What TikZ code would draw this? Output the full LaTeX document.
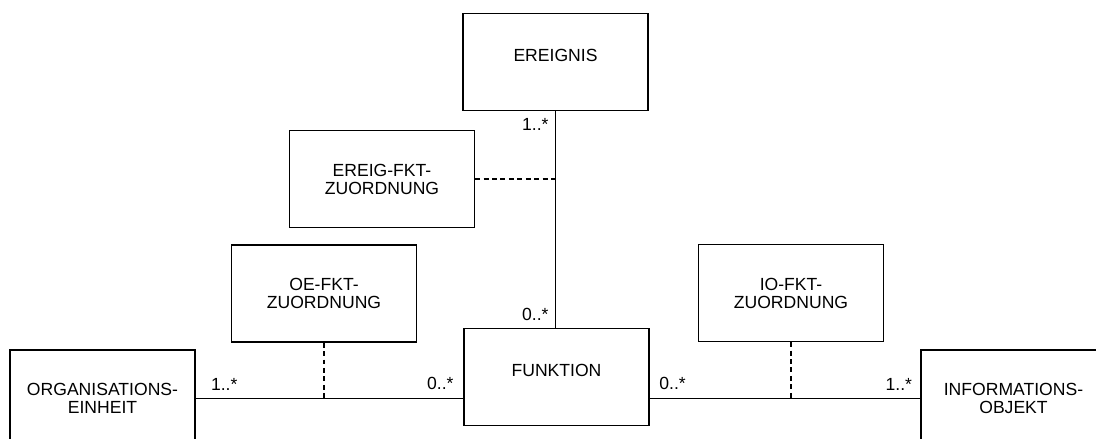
\documentclass[tikz,border=0pt]{standalone}
\usepackage{fontspec}
\setmainfont{Liberation Sans}

\begin{document}
\begin{tikzpicture}[
  x=0.025cm,y=-0.025cm,
  box/.style={rectangle,draw,line width=0.9pt,minimum width=4.625cm,minimum height=2.425cm,
    align=center,font=\fontsize{12.5}{12.8}\selectfont},
  solo/.style={box,text depth=10pt},
  assoc/.style={line width=0.9pt},
  link/.style={line width=0.9pt,dash pattern=on 3.5pt off 2.5pt},
  mult/.style={inner sep=4.5pt,font=\fontsize{12.5}{12.8}\selectfont}
]
\useasboundingbox (0,0) rectangle (1096,439);
\clip (0,0) rectangle (1096,439);

\node[solo] (ereignis) at (555.5,62) {EREIGNIS};
\node[box] (ereigfkt) at (382,179) {EREIG-FKT-\\ZUORDNUNG};
\node[box] (oefkt) at (324,293.5) {OE-FKT-\\ZUORDNUNG};
\node[solo] (funktion) at (556.5,377) {FUNKTION};
\node[box] (iofkt) at (791,293) {IO-FKT-\\ZUORDNUNG};
\node[box] (orgeinheit) at (102.5,398.5) {ORGANISATIONS-\\EINHEIT};
\node[box] (infoobjekt) at (1013.5,398.5) {INFORMATIONS-\\OBJEKT};

% associations with multiplicities
\draw[assoc] (ereignis.south) node[mult,below left]{1..*}
  -- (ereignis.south |- funktion.north) node[mult,above left]{0..*};
\draw[assoc] (orgeinheit.east) node[mult,above right,xshift=6pt,yshift=1pt]{1..*}
  -- (orgeinheit.east -| funktion.west) node[mult,above left,xshift=-2pt,yshift=1pt]{0..*};
\draw[assoc] (orgeinheit.east -| funktion.east) node[mult,above right,xshift=2pt,yshift=1pt]{0..*}
  -- (infoobjekt.west) node[mult,above left,xshift=-1pt,yshift=1pt]{1..*};

% association classes
\draw[link] (ereigfkt.east) -- (ereigfkt.east -| ereignis.south);
\draw[link] (oefkt.south) -- (oefkt.south |- orgeinheit.east);
\draw[link] (iofkt.south) -- (iofkt.south |- infoobjekt.west);
\end{tikzpicture}
\end{document}
